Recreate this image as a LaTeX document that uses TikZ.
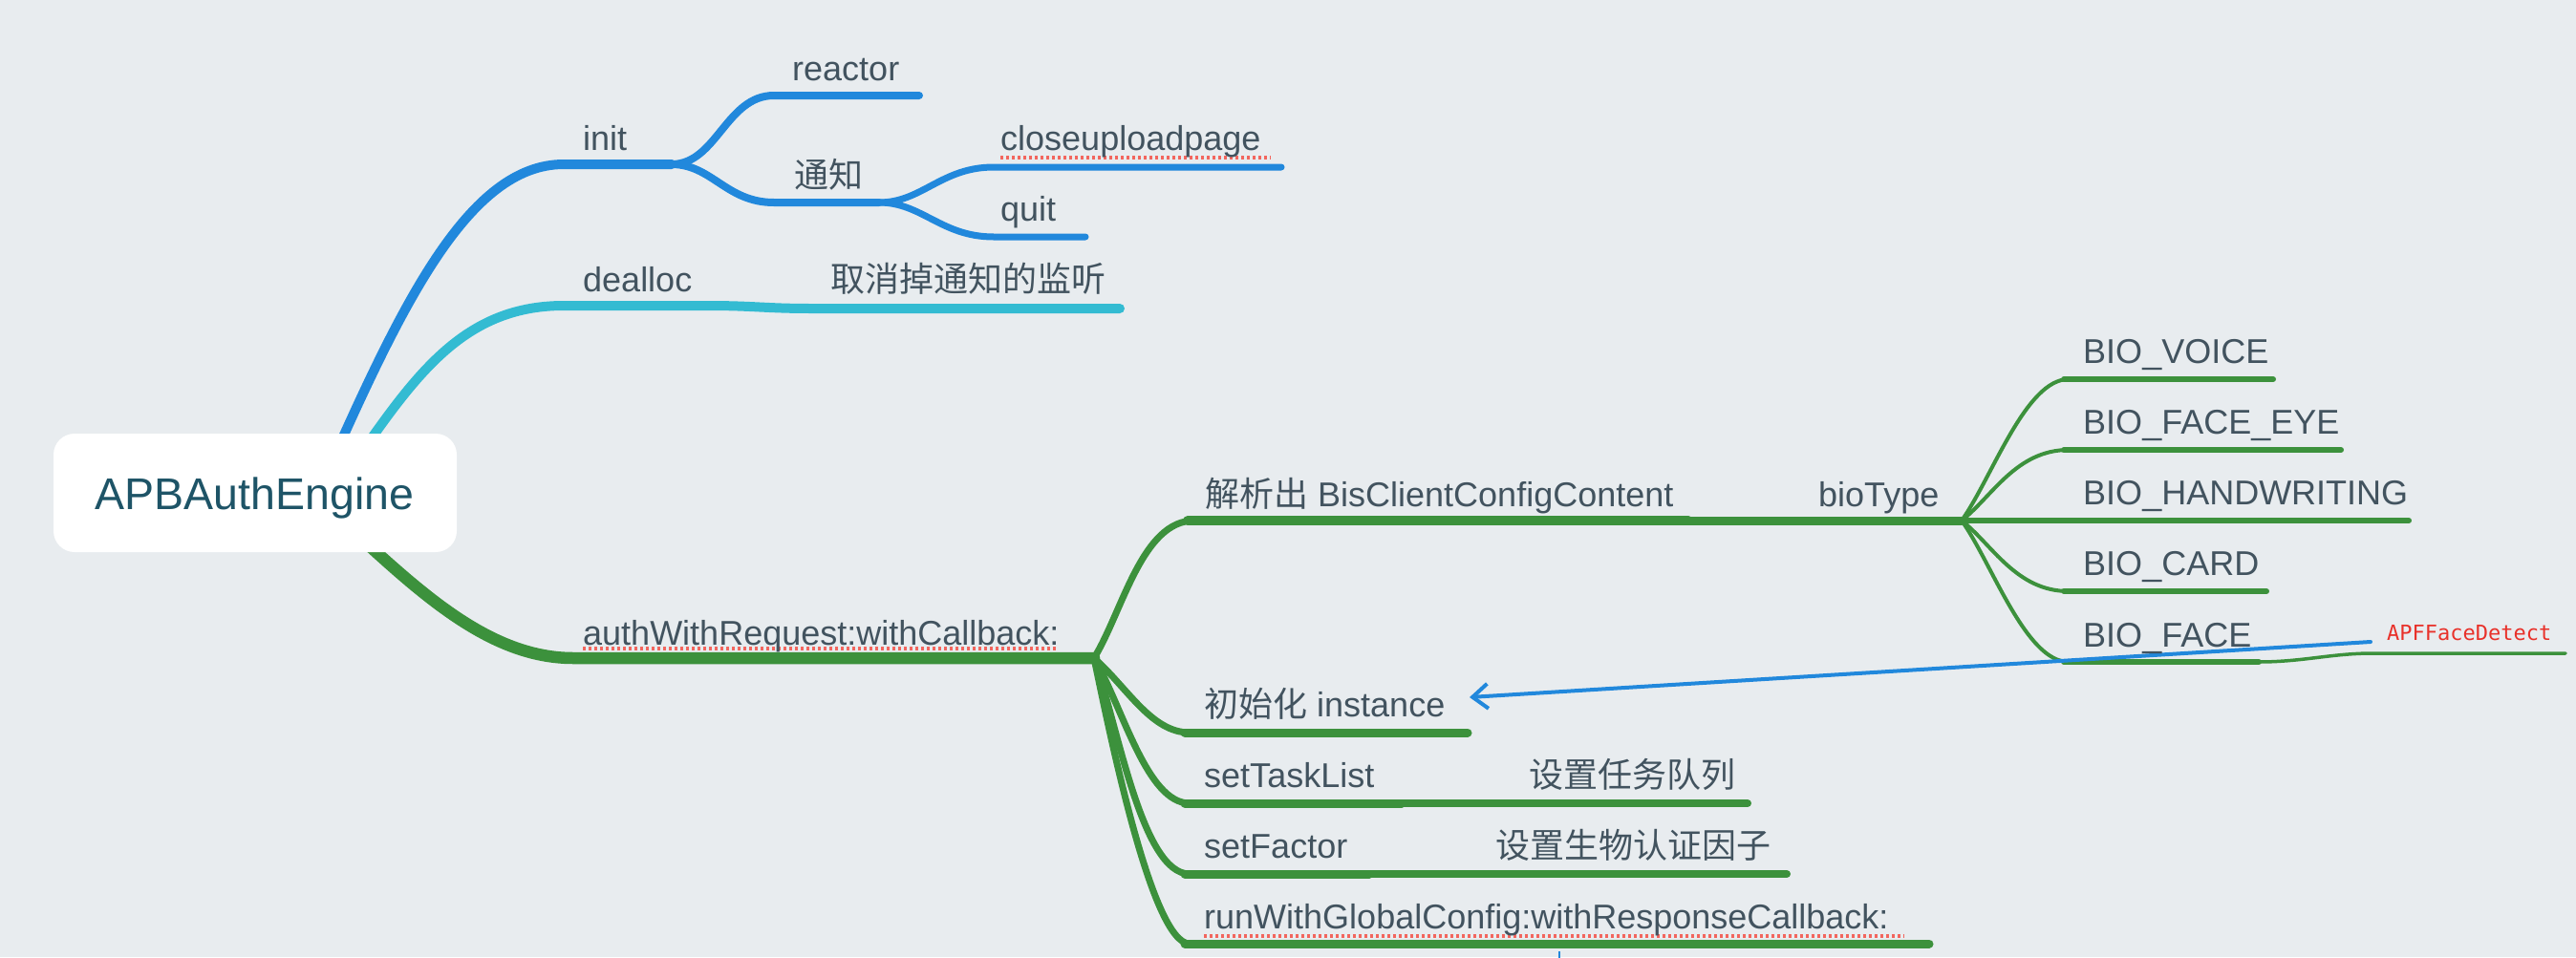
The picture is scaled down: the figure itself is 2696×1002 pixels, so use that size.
\documentclass[tikz,border=0pt]{standalone}
\usepackage{fontspec}
\setmainfont{Liberation Sans}
\newfontfamily\cjk{Noto Sans CJK SC}
\newfontfamily\monof{DejaVu Sans Mono}
\usetikzlibrary{arrows.meta}
\definecolor{bgc}{HTML}{E8ECEF}
\definecolor{blueA}{HTML}{2188DC}
\definecolor{cyanA}{HTML}{33BBD2}
\definecolor{greenA}{HTML}{3C913C}
\definecolor{txt}{HTML}{42535F}
\definecolor{roottxt}{HTML}{1E5467}
\definecolor{apfred}{HTML}{E8312A}
\definecolor{spellred}{HTML}{F2665E}
\begin{document}
\begin{tikzpicture}[x=1pt,y=-1pt,
  lbl/.style={anchor=base west,inner sep=0pt,text=txt,font=\fontsize{36}{40}\selectfont},
  br/.style={line cap=round,line join=round},
  spell/.style={draw=spellred,line width=4pt,dash pattern=on 3pt off 3pt},
  rootbox/.style={draw=none,fill=white,rounded corners=22pt,minimum width=422pt,minimum height=124pt,inner sep=0pt}]
\useasboundingbox (0,0) rectangle (2696,1002);
\fill[bgc] (0,0) rectangle (2696,1002);

% coordinates
\coordinate (rB) at (340,500);
\coordinate (rC) at (360,500);
\coordinate (rG) at (330,520);
\coordinate (initE) at (703,172);
\coordinate (tzE) at (920,212);
\coordinate (authE) at (1145,689);
\coordinate (bioE) at (2053,545);
\coordinate (apfS) at (2481,672);
\coordinate (instA) at (1538,730);

% blue branch
\draw[br,blueA,line width=10pt] (rB) .. controls (420,320) and (490,172) .. (590,172) -- (initE);
\draw[br,blueA,line width=8pt] (initE) .. controls (750,172) and (760,100) .. (810,100) -- (962,100);
\draw[br,blueA,line width=8pt] (initE) .. controls (745,172) and (760,212) .. (810,212) -- (tzE);
\draw[br,blueA,line width=7pt] (tzE) .. controls (965,212) and (985,175) .. (1040,175) -- (1341,175);
\draw[br,blueA,line width=7pt] (tzE) .. controls (965,212) and (985,248) .. (1040,248) -- (1136,248);

% cyan branch
\draw[br,cyanA,line width=10pt] (rC) .. controls (430,400) and (480,320) .. (590,320) -- (740,320)
  .. controls (790,320) and (800,323) .. (850,323) -- (1172,323);

% green branch
\draw[br,greenA,line width=12.5pt] (rG) .. controls (420,600) and (500,689) .. (600,689) -- (authE);
\draw[br,greenA,line width=7pt] (authE) .. controls (1175,640) and (1195,545) .. (1250,545);
\draw[br,greenA,line width=10pt] (1243,545) -- (1767,545);
\draw[br,greenA,line width=9pt] (1767,545) -- (bioE);
\draw[br,greenA,line width=7pt] (authE) .. controls (1180,720) and (1205,767) .. (1245,767);
\draw[br,greenA,line width=9pt] (1240,767) -- (1536,767);
\draw[br,greenA,line width=7pt] (authE) .. controls (1175,740) and (1200,841) .. (1245,841);
\draw[br,greenA,line width=9pt] (1240,841) -- (1467,841);
\draw[br,greenA,line width=8pt] (1467,841) -- (1829,841);
\draw[br,greenA,line width=7pt] (authE) .. controls (1170,760) and (1195,915) .. (1245,915);
\draw[br,greenA,line width=9pt] (1240,915) -- (1433,915);
\draw[br,greenA,line width=8pt] (1433,915) -- (1870,915);
\draw[br,greenA,line width=7pt] (authE) .. controls (1160,760) and (1205,988) .. (1245,988);
\draw[br,greenA,line width=9pt] (1240,988) -- (2019,988);

% bio leaves
\draw[br,greenA,line width=4pt] (bioE) .. controls (2085,500) and (2120,397) .. (2165,397);
\draw[br,greenA,line width=6pt] (2160,397) -- (2379,397);
\draw[br,greenA,line width=4pt] (bioE) .. controls (2085,520) and (2110,471) .. (2165,471);
\draw[br,greenA,line width=6pt] (2160,471) -- (2450,471);
\draw[br,greenA,line width=6pt] (bioE) -- (2521,545);
\draw[br,greenA,line width=4pt] (bioE) .. controls (2085,570) and (2110,619) .. (2165,619);
\draw[br,greenA,line width=6pt] (2160,619) -- (2372,619);
\draw[br,greenA,line width=4pt] (bioE) .. controls (2085,590) and (2120,693) .. (2165,693);
\draw[br,greenA,line width=6pt] (2160,693) -- (2364,693);
\draw[br,greenA,line width=3.5pt] (2364,693) .. controls (2410,693) and (2440,684) .. (2483,684) -- (2685,684);

% relation arrow
\draw[blueA,line width=4pt,line cap=round,-{Straight Barb[length=16pt,width=26pt]}] (apfS) -- (instA);
\draw[blueA,line width=2.5pt] (1632,996) -- (1632,1003);

% root
\node[rootbox] (root) at (267,516) {};
\node[anchor=base,inner sep=0pt,text=roottxt,font=\fontsize{46.5}{52}\selectfont] (roottext) at (266.5,533) {APBAuthEngine};

% spell underlines
\draw[spell] (1047,165) -- (1330,165);
\draw[spell] (610,679) -- (1105,679);
\draw[spell] (1260,980) -- (1993,980);

% labels
\node[lbl] (init) at (610,157) {init};
\node[lbl] (reactor) at (829,84) {reactor};
\node[lbl] (tongzhi) at (831,196) {\cjk 通知};
\node[lbl] (close) at (1047,157) {closeuploadpage};
\node[lbl] (quit) at (1047,231) {quit};
\node[lbl] (dealloc) at (610,305) {dealloc};
\node[lbl] (cancel) at (869,305) {\cjk 取消掉通知的监听};
\node[lbl] (auth) at (610,675) {authWithRequest:withCallback:};
\node[lbl] (parse) at (1261,530) {{\cjk 解析出} BisClientConfigContent};
\node[lbl] (biotype) at (1903,530) {bioType};
\node[lbl] (voice) at (2180,380) {BIO\_VOICE};
\node[lbl] (eye) at (2180,454) {BIO\_FACE\_EYE};
\node[lbl] (hand) at (2180,528) {BIO\_HANDWRITING};
\node[lbl] (card) at (2180,602) {BIO\_CARD};
\node[lbl] (face) at (2180,677) {BIO\_FACE};
\node[lbl] (inst) at (1260,750) {{\cjk 初始化} instance};
\node[lbl] (task) at (1260,824) {setTaskList};
\node[lbl] (taskcn) at (1600,824) {\cjk 设置任务队列};
\node[lbl] (factor) at (1260,898) {setFactor};
\node[lbl] (factorcn) at (1565,898) {\cjk 设置生物认证因子};
\node[lbl] (run) at (1260,972) {runWithGlobalConfig:withResponseCallback:};
\node[anchor=base west,inner sep=0pt,text=apfred,font=\monof\fontsize{22}{26}\selectfont] (apf) at (2498,670) {APFFaceDetect};
\end{tikzpicture}
\end{document}
